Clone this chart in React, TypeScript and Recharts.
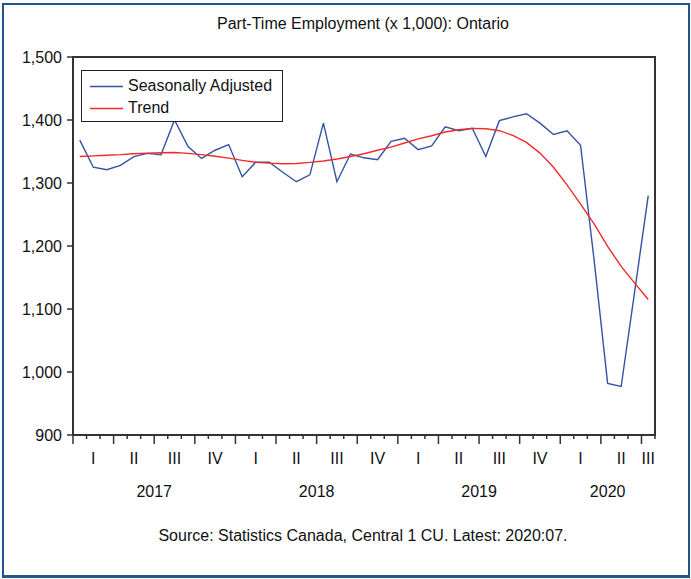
import React from 'react';
import { LineChart, Line, XAxis, YAxis, ReferenceArea, Legend } from 'recharts';

const months = [
  '2017-01', '2017-02', '2017-03', '2017-04', '2017-05', '2017-06', '2017-07', '2017-08', '2017-09', '2017-10', '2017-11', '2017-12',
  '2018-01', '2018-02', '2018-03', '2018-04', '2018-05', '2018-06', '2018-07', '2018-08', '2018-09', '2018-10', '2018-11', '2018-12',
  '2019-01', '2019-02', '2019-03', '2019-04', '2019-05', '2019-06', '2019-07', '2019-08', '2019-09', '2019-10', '2019-11', '2019-12',
  '2020-01', '2020-02', '2020-03', '2020-04', '2020-05', '2020-06', '2020-07',
];

const seasonallyAdjusted = [
  1368, 1325, 1321, 1328, 1342, 1347, 1345, 1400, 1358, 1339, 1352, 1361,
  1310, 1333, 1333, 1317, 1302, 1313, 1395, 1302, 1346, 1340, 1337, 1366,
  1371, 1353, 1359, 1389, 1383, 1387, 1342, 1399, 1405, 1410, 1395, 1377,
  1383, 1360, 1178, 982, 977, 1128, 1280,
];

const trend = [
  1342, 1343, 1344, 1345, 1346.5, 1347.5, 1348, 1348.5, 1347, 1345, 1342.5, 1339.5,
  1336, 1333, 1331.5, 1330.6, 1331, 1332.7, 1335, 1338, 1342, 1346.5, 1352, 1357,
  1363.5, 1370, 1375, 1381, 1384.6, 1386.7, 1386, 1383, 1375.6, 1364.4, 1347.5, 1325,
  1297, 1266.5, 1235, 1199.4, 1167.6, 1141, 1115,
];

const quarterNames = ['I', 'II', 'III', 'IV'];
const yearLabels = ['2017', '2018', '2019', '2020'];
const yTicks = [900, 1000, 1100, 1200, 1300, 1400, 1500];

const TITLE = 'Part-Time Employment (x 1,000): Ontario';
const SOURCE = 'Source: Statistics Canada, Central 1 CU. Latest: 2020:07.';

const BLUE = '#3453a6';
const RED = '#f22a2a';
const AXIS = '#333333';
const FONT = '"Liberation Sans", Arial, Helvetica, sans-serif';

const n = months.length;
const data = months.map((m, i) => ({
  month: m,
  pos: i + 0.5,
  sa: seasonallyAdjusted[i],
  trend: trend[i],
}));

const monthTicks = Array.from({ length: n + 1 }, (_, i) => i);

const quarterTicks: { pos: number; label: string }[] = [];
for (let s = 0; s < n; s += 3) {
  const e = Math.min(s + 3, n);
  quarterTicks.push({ pos: (s + e) / 2, label: quarterNames[(s / 3) % 4] });
}

const yearTicks: { pos: number; label: string }[] = [];
for (let s = 0; s < n; s += 12) {
  const e = Math.min(s + 12, n);
  yearTicks.push({ pos: (s + e) / 2, label: yearLabels[s / 12] });
}

const QuarterTick = (props: any) => {
  const { x, y, payload } = props;
  const v = payload.value;
  if (Number.isInteger(v)) {
    const len = v % 3 === 0 ? 9 : 4;
    return <line x1={x} x2={x} y1={y} y2={y + len} stroke={AXIS} strokeWidth={1.5} />;
  }
  const q = quarterTicks.find((t) => t.pos === v);
  return (
    <text x={x} y={y + 28.5} textAnchor="middle" fontSize={16} fill="#111" fontFamily={FONT}>
      {q ? q.label : ''}
    </text>
  );
};

const YearTick = (props: any) => {
  const { x, y, payload } = props;
  const yr = yearTicks.find((t) => t.pos === payload.value);
  return (
    <text x={x} y={y + 21.5} textAnchor="middle" fontSize={16} fill="#111" fontFamily={FONT}>
      {yr ? yr.label : ''}
    </text>
  );
};

const renderLegend = (props: any) => {
  const { payload } = props;
  return (
    <div
      style={{
        boxSizing: 'border-box',
        width: 202,
        height: 52,
        border: '1px solid #222',
        background: '#fff',
        paddingTop: 4,
        fontFamily: FONT,
      }}
    >
      {(payload || []).map((entry: any) => (
        <div key={entry.value} style={{ display: 'flex', alignItems: 'center', height: 22 }}>
          <svg width={46} height={22} style={{ display: 'block' }}>
            <line x1={8} x2={41} y1={11.5} y2={11.5} stroke={entry.color} strokeWidth={1.5} />
          </svg>
          <span style={{ fontSize: 16, color: '#111', lineHeight: '22px', whiteSpace: 'nowrap' }}>{entry.value}</span>
        </div>
      ))}
    </div>
  );
};

export default function App() {
  return (
    <div
      style={{
        position: 'absolute',
        left: 0,
        top: 0,
        width: 691,
        height: 579,
        background: '#fff',
        fontFamily: FONT,
        overflow: 'hidden',
      }}
    >
      <div
        style={{
          position: 'absolute',
          left: 2,
          top: 3,
          width: 688,
          height: 575,
          boxSizing: 'border-box',
          border: '2px solid #22548f',
          borderBottomWidth: 3,
        }}
      />
      <LineChart
        width={691}
        height={579}
        data={data}
        margin={{ top: 57, right: 36, bottom: 64, left: 0 }}
        style={{ position: 'absolute', left: 0, top: 0 }}
      >
        <YAxis
          type="number"
          domain={[900, 1500]}
          ticks={yTicks}
          interval={0}
          width={73}
          tickSize={6}
          tickMargin={5}
          tickFormatter={(v: number) => v.toLocaleString('en-US')}
          tick={{ fontSize: 16, fill: '#111' }}
          axisLine={{ stroke: AXIS, strokeWidth: 2 }}
          tickLine={{ stroke: AXIS, strokeWidth: 1.5 }}
        />
        <XAxis
          xAxisId="q"
          type="number"
          dataKey="pos"
          domain={[0, n]}
          ticks={[...monthTicks, ...quarterTicks.map((t) => t.pos)]}
          interval={0}
          height={40}
          tickSize={0}
          tickMargin={0}
          tickLine={false}
          axisLine={{ stroke: AXIS, strokeWidth: 2 }}
          tick={<QuarterTick />}
        />
        <XAxis
          xAxisId="y"
          type="number"
          dataKey="pos"
          domain={[0, n]}
          ticks={yearTicks.map((t) => t.pos)}
          interval={0}
          height={40}
          tickSize={0}
          tickMargin={0}
          tickLine={false}
          axisLine={false}
          tick={<YearTick />}
        />
        <ReferenceArea
          xAxisId="q"
          x1={0}
          x2={n}
          y1={900}
          y2={1500}
          fill="none"
          fillOpacity={0}
          stroke={AXIS}
          strokeWidth={2}
          ifOverflow="visible"
        />
        <Line
          xAxisId="q"
          type="linear"
          dataKey="sa"
          name="Seasonally Adjusted"
          stroke={BLUE}
          strokeWidth={1.4}
          dot={false}
          activeDot={false}
          isAnimationActive={false}
        />
        <Line
          xAxisId="q"
          type="linear"
          dataKey="trend"
          name="Trend"
          stroke={RED}
          strokeWidth={1.4}
          dot={false}
          activeDot={false}
          isAnimationActive={false}
        />
        <Legend
          layout="vertical"
          align="center"
          verticalAlign="middle"
          wrapperStyle={{ left: 81, top: 70, width: 202, height: 52 }}
          content={renderLegend}
        />
      </LineChart>
      <svg
        width={691}
        height={579}
        style={{ position: 'absolute', left: 0, top: 0, pointerEvents: 'none' }}
      >
        <text x={363} y={28.5} textAnchor="middle" fontSize={16} fill="#111" fontFamily={FONT}>
          {TITLE}
        </text>
        <text x={363} y={541} textAnchor="middle" fontSize={16} fill="#111" fontFamily={FONT}>
          {SOURCE}
        </text>
      </svg>
    </div>
  );
}
